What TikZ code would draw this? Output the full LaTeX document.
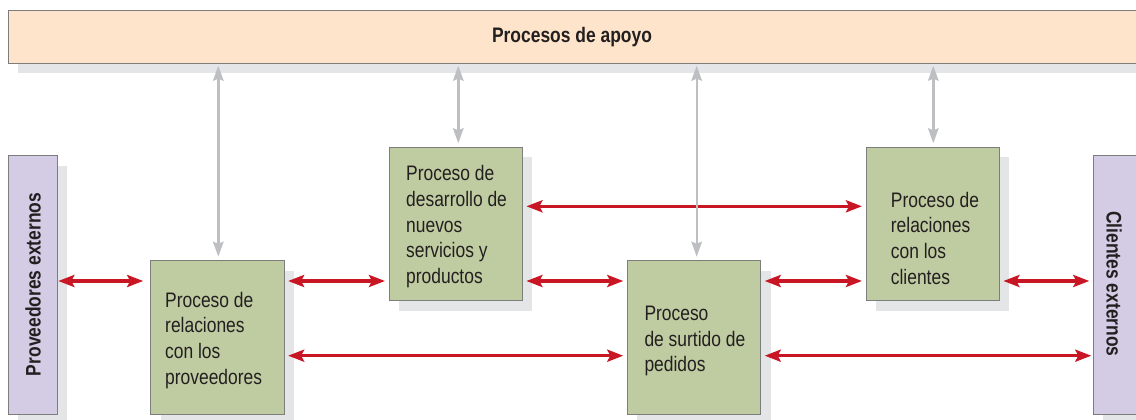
\documentclass[tikz,border=0pt]{standalone}
\usepackage{fontspec}
\setmainfont[FakeStretch=0.83]{Liberation Sans}
\usetikzlibrary{arrows.meta,shadows}
\definecolor{boxgreen}{RGB}{191,204,161}
\definecolor{boxpurple}{RGB}{212,203,228}
\definecolor{boxorange}{RGB}{253,228,202}
\definecolor{shadowgray}{RGB}{228,229,231}
\definecolor{edgegray}{RGB}{125,125,125}
\definecolor{arrred}{RGB}{200,22,36}
\definecolor{arrgray}{RGB}{190,191,195}
\definecolor{txt}{RGB}{35,31,32}
\begin{document}
\begin{tikzpicture}[x=1pt,y=-1pt,
  box/.style={draw=edgegray, line width=0.9pt, anchor=north west, inner sep=0pt, outer sep=0pt,
    drop shadow={shadow xshift=10pt, shadow yshift=-10pt, fill=shadowgray, opacity=1}},
  procbox/.style={box, fill=boxgreen, minimum width=133.4pt, minimum height=153.4pt},
  extbox/.style={box, fill=boxpurple, minimum width=49.3pt, minimum height=258.3pt},
  lbl/.style={anchor=north west, align=left, inner sep=0pt, text=txt, font=\fontsize{21}{25.8}\selectfont},
  vlbl/.style={inner sep=0pt, text=txt, font=\fontsize{21}{25.8}\selectfont\bfseries},
  redarr/.style={draw=arrred, line width=3.4pt, shorten <=4pt, shorten >=4pt,
    {Stealth[length=16pt,width=12pt,inset=3pt]}-{Stealth[length=16pt,width=12pt,inset=3pt]}},
  grayarr/.style={draw=arrgray, line width=2.4pt,
    {Stealth[length=15pt,width=10.5pt,inset=2pt]}-{Stealth[length=15pt,width=10.5pt,inset=2pt]}}
]
\useasboundingbox (0,0) rectangle (1136,420);
\clip (0,0) rectangle (1136,420);

% support processes bar
\node[box, fill=boxorange, minimum width=1160pt, minimum height=53pt] (apoyo) at (8,10) {};
\node[anchor=base, inner sep=0pt, text=txt, font=\fontsize{21}{25.8}\selectfont\bfseries] (apoyolbl) at (572,42.7) {Procesos de apoyo};

% external boxes
\node[extbox] (pe) at (8,155.7) {};
\node[extbox, minimum width=60pt] (ce) at (1093.3,155.7) {};
\node[vlbl, rotate=90] (pelbl) at (33,284.5) {Proveedores externos};
\node[vlbl, rotate=-90] (celbl) at (1114,284) {Clientes externos};

% process boxes
\node[procbox] (b1) at (150.7,260.7) {};
\node[procbox] (b2) at (389,147.3) {};
\node[procbox] (b3) at (627.3,260.7) {};
\node[procbox] (b4) at (866,147.3) {};

\node[lbl] (b1lbl) at (165,291.7) {Proceso de\\relaciones\\con los\\proveedores};
\node[lbl] (b2lbl) at (406,165) {Proceso de\\desarrollo de\\nuevos\\servicios y\\productos};
\node[lbl] (b3lbl) at (644.3,305.7) {Proceso\\de surtido de\\pedidos};
\node[lbl] (b4lbl) at (890.7,191.7) {Proceso de\\relaciones\\con los\\clientes};

% reference coordinates
\coordinate (yA) at (0,206.3);
\coordinate (yB) at (0,281);
\coordinate (yC) at (0,355.7);
\coordinate (xA) at (218.3,0);
\coordinate (xB) at (458.3,0);
\coordinate (xC) at (696.7,0);
\coordinate (xD) at (933.3,0);

% red connectors
\draw[redarr, shorten <=1pt, shorten >=7.5pt] (pe.east |- yB) -- (b1.west |- yB);
\draw[redarr] (b1.east |- yB) -- (b2.west |- yB);
\draw[redarr] (b2.east |- yB) -- (b3.west |- yB);
\draw[redarr] (b3.east |- yB) -- (b4.west |- yB);
\draw[redarr] (b4.east |- yB) -- (ce.west |- yB);
\draw[redarr] (b2.east |- yA) -- (b4.west |- yA);
\draw[redarr] (b1.east |- yC) -- (b3.west |- yC);
\draw[redarr, shorten >=2pt] (b3.east |- yC) -- (ce.west |- yC);

% gray connectors
\draw[grayarr, shorten <=2.7pt, shorten >=4pt] (apoyo.south -| xA) -- (b1.north -| xA);
\draw[grayarr, shorten <=2.7pt, shorten >=4pt] (apoyo.south -| xB) -- (b2.north -| xB);
\draw[grayarr, shorten <=2.7pt, shorten >=4pt] (apoyo.south -| xC) -- (b3.north -| xC);
\draw[grayarr, shorten <=2.7pt, shorten >=4pt] (apoyo.south -| xD) -- (b4.north -| xD);
\end{tikzpicture}
\end{document}
